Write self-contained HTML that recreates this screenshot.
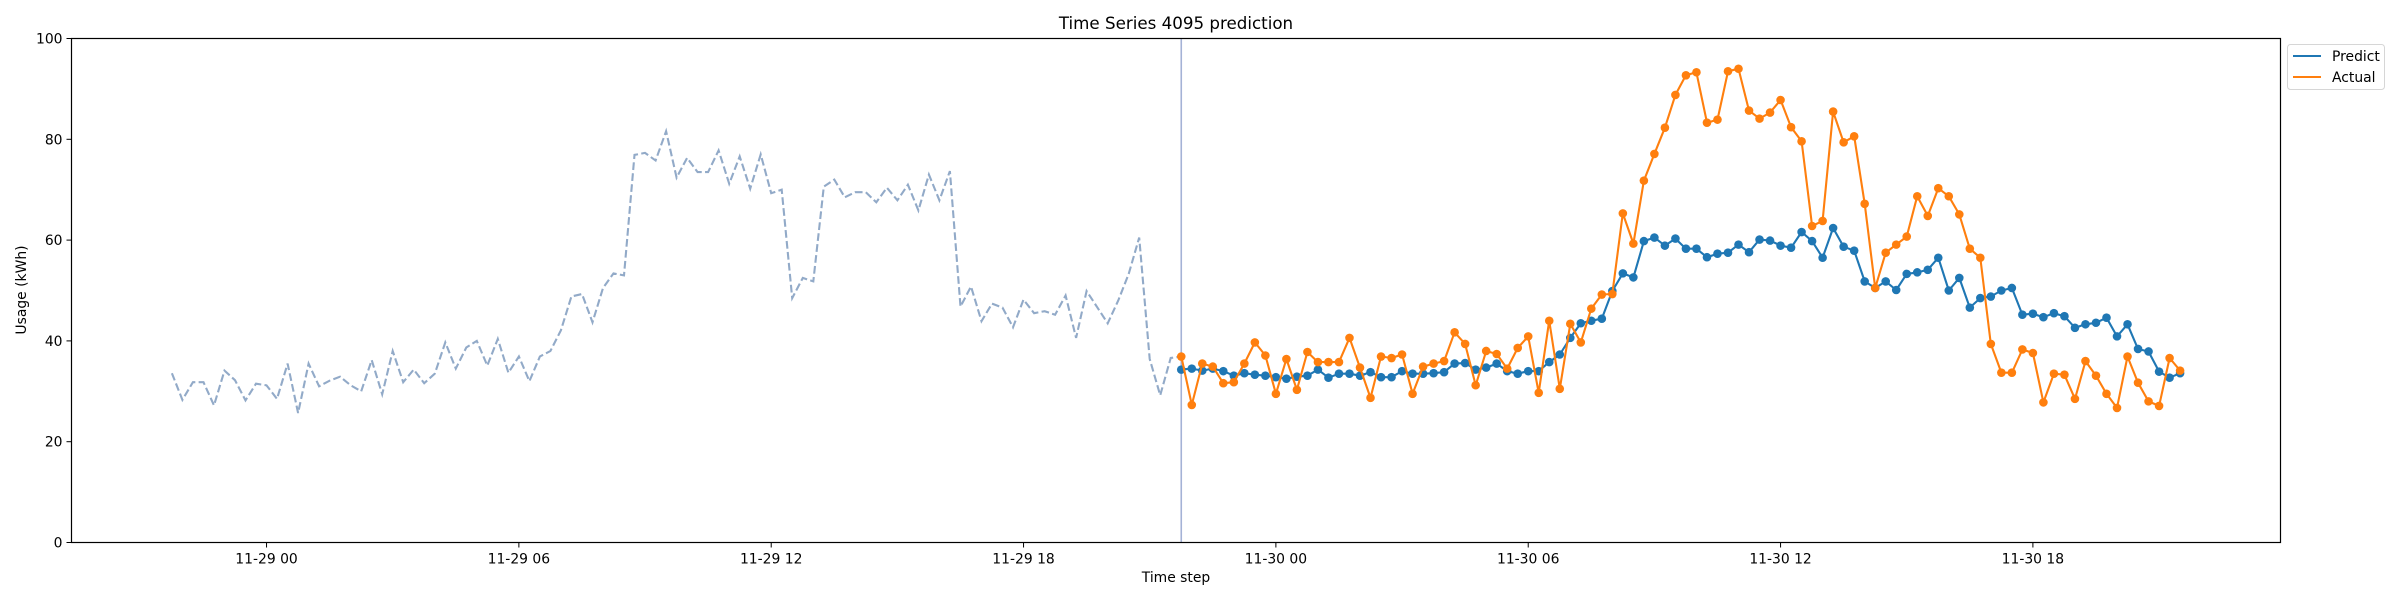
<!DOCTYPE html>
<html><head><meta charset="utf-8"><style>
html,body{margin:0;padding:0;background:#fff;}
svg{display:block;font-family:"DejaVu Sans","Liberation Sans",sans-serif;}
</style></head><body>
<svg id="chart" width="2400" height="600" xmlns="http://www.w3.org/2000/svg">
<rect x="0" y="0" width="2400" height="600" fill="#fff"/>
<text x="1176" y="29" font-size="16.7" text-anchor="middle" fill="#000">Time Series 4095 prediction</text>
<g id="plot"></g>
<text x="1176" y="582" font-size="13.9" text-anchor="middle" fill="#000">Time step</text>
<text x="0" y="0" font-size="13.9" text-anchor="middle" fill="#000" transform="translate(26,290) rotate(-90)">Usage (kWh)</text>
<g>
<rect x="2287.5" y="44.5" width="97" height="45" rx="3" fill="#fff" stroke="#d6d6d6"/>
<line x1="2293" y1="56" x2="2321" y2="56" stroke="#1f77b4" stroke-width="2.1"/>
<text x="2332" y="61" font-size="13.9" fill="#000">Predict</text>
<line x1="2293" y1="77" x2="2321" y2="77" stroke="#ff7f0e" stroke-width="2.1"/>
<text x="2332" y="82" font-size="13.9" fill="#000">Actual</text>
</g>
</svg>
<script>
// ---- data (15-minute steps; step 0 = 11-29 00:00) ----
const historyStart = -9;
const historyValues = [33.6,28.3,31.8,31.8,27.2,34.1,32.2,28.2,31.5,31.2,28.5,35.5,25.7,35.5,31.0,32.1,32.9,31.2,30.0,36.2,29.4,38.0,31.8,34.3,31.6,33.5,39.7,34.5,38.7,40.0,35.1,40.4,33.7,36.9,32.0,36.9,38.0,42.1,48.8,49.3,43.7,50.5,53.4,53.0,76.9,77.3,75.8,81.6,72.4,76.3,73.5,73.5,77.8,71.2,76.6,70.2,77.0,69.3,70.0,48.5,52.5,51.8,70.6,72.0,68.5,69.5,69.5,67.5,70.4,67.9,71.0,65.9,73.0,67.9,73.7,46.8,50.8,43.9,47.4,46.6,42.7,48.2,45.5,45.9,45.2,49.0,40.6,49.9,46.7,43.5,48.0,53.3,60.5,36.4,29.2,36.6,36.9];
const forecastStart = 87;
const predictValues = [34.3,34.5,34.1,34.5,34.0,33.1,33.6,33.3,33.1,32.8,32.5,32.9,33.1,34.3,32.7,33.5,33.5,33.1,33.8,32.8,32.8,34.0,33.5,33.5,33.6,33.8,35.5,35.6,34.3,34.7,35.5,34.0,33.5,34.0,34.0,35.8,37.3,40.6,43.5,44.0,44.4,49.9,53.4,52.6,59.8,60.5,58.9,60.3,58.3,58.3,56.6,57.3,57.5,59.1,57.6,60.1,59.9,58.9,58.5,61.6,59.8,56.5,62.4,58.7,57.9,51.8,50.5,51.8,50.1,53.3,53.6,54.1,56.5,50.0,52.5,46.6,48.5,48.8,50.0,50.5,45.2,45.4,44.7,45.5,44.9,42.6,43.3,43.6,44.6,40.9,43.3,38.4,37.9,33.9,32.7,33.6];
const actualValues = [36.9,27.3,35.5,34.9,31.6,31.8,35.5,39.7,37.1,29.5,36.4,30.3,37.8,35.8,35.8,35.8,40.6,34.7,28.7,36.9,36.6,37.3,29.5,34.9,35.5,36.0,41.7,39.4,31.2,38.0,37.4,34.5,38.6,40.9,29.7,44.0,30.5,43.4,39.7,46.4,49.2,49.3,65.3,59.3,71.8,77.1,82.3,88.8,92.7,93.3,83.3,83.9,93.5,94.0,85.7,84.1,85.3,87.8,82.4,79.6,62.8,63.8,85.5,79.4,80.6,67.2,50.5,57.5,59.1,60.7,68.7,64.8,70.3,68.7,65.1,58.3,56.5,39.4,33.7,33.7,38.3,37.6,27.8,33.5,33.3,28.5,36.0,33.1,29.5,26.7,36.9,31.7,28.0,27.1,36.6,34.1];
const yTicks = [0,20,40,60,80,100];
const xTickSteps = [0,24,48,72,96,120,144,168];
const xTickLabels = ["11-29 00","11-29 06","11-29 12","11-29 18","11-30 00","11-30 06","11-30 12","11-30 18"];

// ---- layout ----
const L=71.5,R=2280.5,T=38.5,B=542.5;
const xMinStep=-9, xMaxStep=182, pad=(xMaxStep-xMinStep)*0.05;
const xs = s => L + (s-(xMinStep-pad))/((xMaxStep+pad)-(xMinStep-pad))*(R-L);
const ys = v => B - v/100*(B-T);
const NS="http://www.w3.org/2000/svg";
const plot=document.getElementById('plot');
function mk(tag,attrs,parent){const e=document.createElementNS(NS,tag);for(const k in attrs)e.setAttribute(k,attrs[k]);(parent||plot).appendChild(e);return e;}

// y ticks
yTicks.forEach(v=>{
  const t=mk('line',{x1:L-5,x2:L,y1:ys(v),y2:ys(v),stroke:'#000','stroke-width':1});
  
  
  const lb=mk('text',{x:L-9,y:ys(v)+5,'font-size':13.9,'text-anchor':'end',fill:'#000'});
  lb.textContent=v;
  
  
});
// x ticks
xTickSteps.forEach((s,i)=>{
  const t=mk('line',{x1:xs(s),x2:xs(s),y1:B,y2:B+5,stroke:'#000','stroke-width':1});
  
  
  const lb=mk('text',{x:xs(s),y:B+21,'font-size':13.9,'text-anchor':'middle',fill:'#000'});
  lb.textContent=xTickLabels[i];
  
  
});

// history dashed line
const hp=historyValues.map((v,i)=>xs(historyStart+i).toFixed(1)+','+ys(v).toFixed(1)).join(' ');
const hl=mk('polyline',{points:hp,fill:'none',stroke:'#92aac8','stroke-width':2.1,'stroke-dasharray':'7.7,3.3'});



// forecast start vline
const vl=mk('line',{x1:xs(forecastStart),x2:xs(forecastStart),y1:T,y2:B,stroke:'#a4b2d6','stroke-width':1.6});



function series(vals,color,name){
  const g=mk('g',{});
  
  
  const pts=vals.map((v,i)=>xs(forecastStart+i).toFixed(1)+','+ys(v).toFixed(1)).join(' ');
  const pl=mk('polyline',{points:pts,fill:'none',stroke:color,'stroke-width':2.1,'stroke-linejoin':'round'},g);
  
  
  vals.forEach((v,i)=>{
    const c=mk('circle',{cx:xs(forecastStart+i),cy:ys(v),r:4.3,fill:color},g);
    
    
  });
}
series(predictValues,'#1f77b4','predict');
series(actualValues,'#ff7f0e','actual');

// axes frame
const fr=mk('rect',{x:L,y:T,width:R-L,height:B-T,fill:'none',stroke:'#000','stroke-width':1.2});


</script>
</body></html>
